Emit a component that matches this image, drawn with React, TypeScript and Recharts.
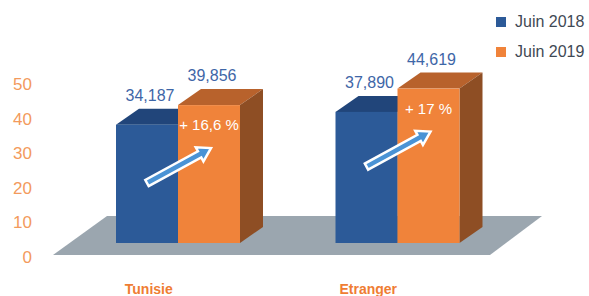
import React from 'react';
import { BarChart, Bar, XAxis, YAxis, Legend, LabelList } from 'recharts';

const categories = ['Tunisie', 'Etranger'];
const juin2018 = [34.187, 37.89];
const juin2019 = [39.856, 44.619];
const growthLabels = ['+ 16,6 %', '+ 17 %'];
const yTicks = [0, 10, 20, 30, 40, 50];
const seriesNames = ['Juin 2018', 'Juin 2019'];

const data = categories.map((c, i) => ({
  name: c,
  a: juin2018[i],
  b: juin2019[i],
  growth: growthLabels[i],
}));

const FONT = '"Liberation Sans", Arial, Helvetica, sans-serif';
const BLUE = '#2c5a98';
const BLUE_TOP = '#21457a';
const BLUE_SIDE = '#1c3b68';
const ORANGE = '#f0833a';
const ORANGE_TOP = '#b8622c';
const ORANGE_SIDE = '#8e4e24';
const DX = 23;
const DY = 16;

const W = 589;
const H = 296;
const M_TOP = 70;
const M_RIGHT = 82;
const Y_W = 68;
const X_H = 53;

function box(x: number, y: number, w: number, h: number, front: string, top: string, side: string) {
  return (
    <g>
      <polygon points={`${x},${y} ${x + w},${y} ${x + w + DX},${y - DY} ${x + DX},${y - DY}`} fill={top} />
      <polygon points={`${x + w},${y} ${x + w + DX},${y - DY} ${x + w + DX},${y + h - DY} ${x + w},${y + h}`} fill={side} />
      <rect x={x} y={y} width={w} height={h} fill={front} />
    </g>
  );
}

function Bar2018(props: any) {
  const { x, y, width, height, index } = props;
  const base = y + height;
  const plotL = Y_W;
  const plotR = W - M_RIGHT;
  let floor = null;
  if (index === 0) {
    floor = (
      <polygon
        points={`${plotL - 15},${base + 12} ${plotR - 17},${base + 12} ${plotR + 35},${base - 27} ${plotL + 39},${base - 27}`}
        fill="#9ba6af"
      />
    );
  }
  return (
    <g>
      {floor}
      {box(x, y, width, height, BLUE, BLUE_TOP, BLUE_SIDE)}
    </g>
  );
}

function arrow(tx: number, ty: number, px: number, py: number) {
  const dx = px - tx;
  const dy = py - ty;
  const L = Math.sqrt(dx * dx + dy * dy);
  const ux = dx / L;
  const uy = dy / L;
  const nx = -uy;
  const ny = ux;
  const s = 3.5;
  const hw = 8;
  const hl = 13;
  const hx = px - ux * hl;
  const hy = py - uy * hl;
  const pts = [
    [tx + nx * s, ty + ny * s],
    [hx + nx * s, hy + ny * s],
    [hx + nx * hw, hy + ny * hw],
    [px, py],
    [hx - nx * hw, hy - ny * hw],
    [hx - nx * s, hy - ny * s],
    [tx - nx * s, ty - ny * s],
  ]
    .map((p) => `${p[0]},${p[1]}`)
    .join(' ');
  return <polygon points={pts} fill="#4a93d5" stroke="#ffffff" strokeWidth={2.5} strokeLinejoin="miter" />;
}

function Bar2019(props: any) {
  const { x, y, width, height } = props;
  return (
    <g>
      {box(x, y, width, height, ORANGE, ORANGE_TOP, ORANGE_SIDE)}
      {arrow(x - 31, y + 78, x + 33, y + 43)}
    </g>
  );
}

function ValueLabel(props: any) {
  const { x, y, width, value } = props;
  const txt = Number(value).toFixed(3).replace('.', ',');
  return (
    <text x={x + width / 2 + 3} y={y - 24} textAnchor="middle" fontFamily={FONT} fontSize={16} fill="#3e66a7">
      {txt}
    </text>
  );
}

function GrowthLabel(props: any) {
  const { x, y, width, value } = props;
  return (
    <text x={x + width / 2} y={y + 25} textAnchor="middle" fontFamily={FONT} fontSize={15} fill="#ffffff">
      {value}
    </text>
  );
}

function YTick(props: any) {
  const { y, payload } = props;
  return (
    <text x={32} y={y + 20} textAnchor="end" fontFamily={FONT} fontSize={17} fill="#f39a5c">
      {payload.value}
    </text>
  );
}

function XTick(props: any) {
  const { x, payload } = props;
  return (
    <text x={x - 29} y={294} textAnchor="middle" fontFamily={FONT} fontSize={14} fontWeight="bold" fill="#ef7d33">
      {payload.value}
    </text>
  );
}

function LegendContent() {
  const colors = [BLUE, ORANGE];
  return (
    <div style={{ fontFamily: FONT, position: 'absolute', left: 0, top: 0, width: 93 }}>
      {seriesNames.map((n, i) => (
        <div key={n} style={{ height: 30, display: 'flex', alignItems: 'center' }}>
          <div style={{ width: 10, height: 10, background: colors[i], marginRight: 9 }} />
          <span style={{ fontSize: 16, color: '#3f4954', lineHeight: '16px', whiteSpace: 'nowrap' }}>{n}</span>
        </div>
      ))}
    </div>
  );
}

export default function App() {
  return (
    <div style={{ position: 'absolute', left: 0, top: 0, width: W, height: H, background: '#ffffff' }}>
      <BarChart
        width={W}
        height={H}
        data={data}
        margin={{ top: M_TOP, right: M_RIGHT, bottom: 0, left: 0 }}
        barSize={62}
        barGap={0}
      >
        <XAxis dataKey="name" height={X_H} axisLine={false} tickLine={false} tick={<XTick />} interval={0} />
        <YAxis
          width={Y_W}
          domain={[0, 50]}
          ticks={yTicks}
          axisLine={false}
          tickLine={false}
          tick={<YTick />}
          interval={0}
        />
        <Legend
          content={<LegendContent />}
          wrapperStyle={{ position: 'absolute', left: 496, top: 7, width: 0, height: 0, overflow: 'visible' }}
        />
        <Bar dataKey="a" name={seriesNames[0]} fill={BLUE} shape={<Bar2018 />} isAnimationActive={false}>
          <LabelList dataKey="a" content={<ValueLabel />} />
        </Bar>
        <Bar dataKey="b" name={seriesNames[1]} fill={ORANGE} shape={<Bar2019 />} isAnimationActive={false}>
          <LabelList dataKey="b" content={<ValueLabel />} />
          <LabelList dataKey="growth" content={<GrowthLabel />} />
        </Bar>
      </BarChart>
    </div>
  );
}
